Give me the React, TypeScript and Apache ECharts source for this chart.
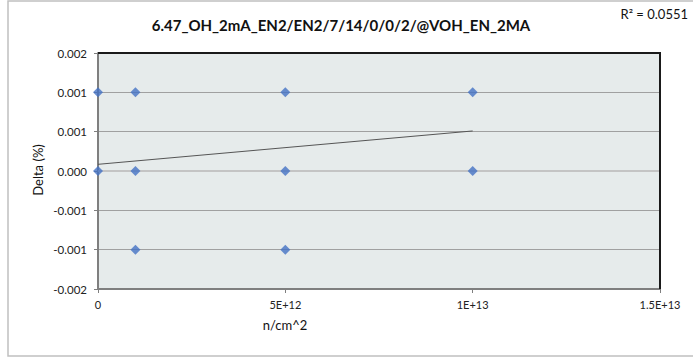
import React, { useEffect, useRef } from "react";
import * as echarts from "echarts";

const titleText = "6.47_OH_2mA_EN2/EN2/7/14/0/0/2/@VOH_EN_2MA";
const r2Text = "R² = 0.0551";
const xAxisTitle = "n/cm^2";
const yAxisTitle = "Delta (%)";

// fluence (n/cm^2) and delta (%) of the measured points
const fluence = [0, 0, 1e12, 1e12, 1e12, 5e12, 5e12, 5e12, 1e13, 1e13];
const delta = [0.001, 0, 0.001, 0, -0.001, 0.001, 0, -0.001, 0.001, 0];

// linear trendline end points
const trendX = [0, 1e13];
const trendY = [0.000085, 0.000509];

const FONT = "Lato, 'Liberation Sans', sans-serif";

export default function App() {
  const ref = useRef<HTMLDivElement>(null);
  useEffect(() => {
    if (!ref.current) return;
    const chart = echarts.init(ref.current, undefined, { renderer: "svg" });
    chart.setOption({
      animation: false,
      backgroundColor: "#ffffff",
      textStyle: { fontFamily: FONT },
      grid: {
        left: 98,
        top: 53,
        right: 33,
        bottom: 70,
        show: true,
        backgroundColor: "#E6EBEB",
        borderColor: "transparent",
        borderWidth: 0,
      },
      xAxis: {
        type: "value",
        min: 0,
        max: 1.5e13,
        interval: 5e12,
        axisLine: { show: true, onZero: false, lineStyle: { color: "#7F7F7F", width: 2 } },
        axisTick: { show: true, length: 4, lineStyle: { color: "#7F7F7F" } },
        splitLine: { show: false },
        axisLabel: {
          color: "#222",
          fontSize: 11,
          fontFamily: FONT,
          margin: 10,
          formatter: (v: number) =>
            v === 0 ? "0" : v.toExponential().replace("e+", "E+"),
        },
      },
      yAxis: {
        type: "value",
        min: -0.0015,
        max: 0.0015,
        interval: 0.0005,
        axisLine: { show: true, onZero: false, lineStyle: { color: "#7F7F7F", width: 2 } },
        axisTick: { show: true, length: 4, lineStyle: { color: "#7F7F7F" } },
        splitLine: { show: true, lineStyle: { color: "#A0A0A0", width: 1 } },
        axisLabel: {
          color: "#222",
          fontSize: 11.5,
          fontFamily: FONT,
          margin: 11,
          formatter: (v: number) => (Math.abs(v) < 1e-12 ? "0.000" : v.toFixed(3)),
        },
      },
      graphic: [
        {
          type: "rect",
          shape: { x: 8, y: 1, width: 700, height: 355 },
          style: { fill: "none", stroke: "#C0C0C0", lineWidth: 1.5 },
          silent: true,
          z: -1,
        },
        {
          type: "text",
          x: 341,
          y: 25,
          style: {
            text: titleText,
            fontFamily: FONT,
            fontWeight: "bold",
            fontSize: 15,
            fill: "#111",
            textAlign: "center",
            textVerticalAlign: "middle",
          },
        },
        {
          type: "text",
          x: 688,
          y: 14,
          style: {
            text: r2Text,
            fontFamily: FONT,
            fontSize: 13,
            fill: "#111",
            textAlign: "right",
            textVerticalAlign: "middle",
          },
        },
        {
          type: "text",
          x: 285,
          y: 325,
          style: {
            text: xAxisTitle,
            fontFamily: FONT,
            fontSize: 13,
            fill: "#111",
            textAlign: "center",
            textVerticalAlign: "middle",
          },
        },
        {
          type: "text",
          x: 38,
          y: 170,
          rotation: Math.PI / 2,
          style: {
            text: yAxisTitle,
            fontFamily: FONT,
            fontSize: 13,
            fill: "#111",
            textAlign: "center",
            textVerticalAlign: "middle",
          },
        },
        {
          type: "polyline",
          shape: { points: [[98, 53], [660, 53], [660, 289]] },
          style: { fill: "none", stroke: "#1A1A1A", lineWidth: 2 },
          z: 5,
        },
      ],
      series: [
        {
          type: "line",
          data: trendX.map((x, i) => [x, trendY[i]]),
          showSymbol: false,
          symbol: "none",
          lineStyle: { color: "#555555", width: 1 },
          z: 3,
          markLine: {
            silent: true,
            symbol: "none",
            z: 1,
            label: { show: false },
            lineStyle: { color: "#C4C4C4", width: 2, type: "solid" },
            data: [{ yAxis: 0 }],
          },
        },
        {
          type: "scatter",
          data: fluence.map((x, i) => [x, delta[i]]),
          symbol: "diamond",
          symbolSize: 10,
          itemStyle: { color: "#4472C4" },
          z: 6,
        },
      ],
    });
    return () => chart.dispose();
  }, []);
  return (
    <div
      ref={ref}
      style={{ position: "fixed", left: 0, top: 0, width: 693, height: 359 }}
    />
  );
}
